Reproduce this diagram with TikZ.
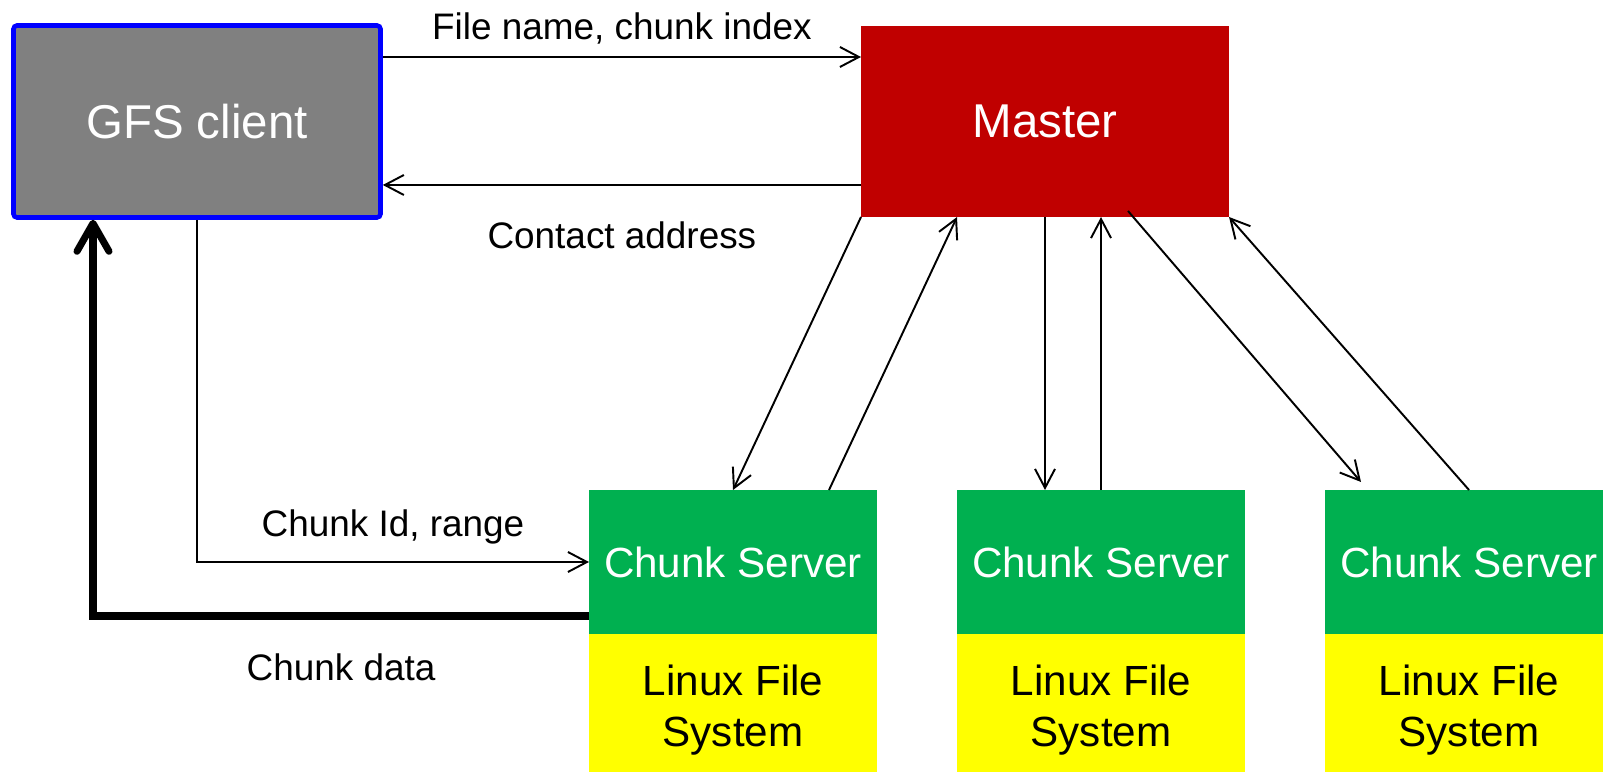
\documentclass[tikz,border=0pt]{standalone}
\usepackage{fontspec}
\setmainfont{Liberation Sans}
\usetikzlibrary{arrows.meta, positioning}
\definecolor{clientgray}{HTML}{808080}
\definecolor{masterred}{HTML}{C00000}
\definecolor{servergreen}{HTML}{00B050}
\definecolor{fsyellow}{HTML}{FFFF00}

\begin{document}
\begin{tikzpicture}[
  clientbox/.style={draw=blue, line width=1.3pt, fill=clientgray, rounded corners=1pt, text=white,
    minimum width=3.67cm, minimum height=1.92cm, font=\fontsize{13.5}{16}\selectfont},
  masterbox/.style={fill=masterred, text=white, outer sep=0pt,
    minimum width=3.68cm, minimum height=1.91cm, font=\fontsize{13.5}{16}\selectfont},
  serverbox/.style={fill=servergreen, text=white, outer sep=0pt,
    minimum width=2.88cm, minimum height=1.44cm, font=\fontsize{12}{14.5}\selectfont},
  fsbox/.style={fill=fsyellow, outer sep=0pt, align=center,
    minimum width=2.88cm, minimum height=1.53cm, font=\fontsize{12}{14.5}\selectfont},
  lbl/.style={font=\fontsize{10.5}{12.6}\selectfont},
  msg/.style={-{Straight Barb[length=1.9mm, width=2mm]}, line width=0.55pt},
  bulk/.style={-{Straight Barb[length=2.8mm, width=3.2mm, round]}, line width=2pt}]
  \clip (0,0) rectangle (16.03,7.71);

  \node[clientbox] (client) at (1.97,6.495) {GFS client};
  \node[masterbox] (master) at (10.45,6.495) {Master};

  \node[serverbox] (cs1) at (7.33,2.09) {Chunk Server};
  \node[serverbox] (cs2) at (11.01,2.09) {Chunk Server};
  \node[serverbox] (cs3) at (14.69,2.09) {Chunk Server};
  \node[fsbox, below=0pt of cs1] (fs1) {Linux File\\System};
  \node[fsbox, below=0pt of cs2] (fs2) {Linux File\\System};
  \node[fsbox, below=0pt of cs3] (fs3) {Linux File\\System};

  % client <-> master
  \draw[msg] ([yshift=6.45mm]client.east) -- node[lbl, above] {File name, chunk index} ([yshift=6.45mm]master.west);
  \draw[msg] ([yshift=-6.35mm]master.west) -- node[lbl, below=2.4mm] {Contact address} ([yshift=-6.35mm]client.east);

  % client <-> first chunk server
  \draw[msg] (client.south) |- node[lbl, above=0.5mm, pos=0.75] {Chunk Id, range} (cs1.west);
  \draw[bulk] ([yshift=-5.4mm]cs1.west) -| node[lbl, below=2.3mm, pos=0.25] {Chunk data} ([xshift=-10.4mm]client.south);

  % master <-> chunk servers
  \draw[msg] (master.south west) -- (cs1.north);
  \draw[msg] ([xshift=9.6mm]cs1.north) -- ([xshift=-8.8mm]master.south);
  \draw[msg] (master.south) -- (master.south |- cs2.north);
  \draw[msg] (cs2.north) -- (cs2.north |- master.south);
  \draw[msg] ([xshift=8.3mm, yshift=0.6mm]master.south) -- ([xshift=-10.8mm, yshift=0.8mm]cs3.north);
  \draw[msg] (cs3.north) -- (master.south east);
\end{tikzpicture}
\end{document}
